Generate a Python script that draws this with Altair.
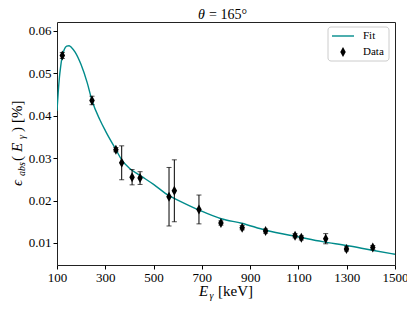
import altair as alt
import pandas as pd

# measured data points
energy = [122, 245, 344, 368, 411, 444, 564, 586, 688, 779, 867, 964, 1086, 1112, 1213, 1299, 1408]
efficiency = [0.0542, 0.0436, 0.0320, 0.0289, 0.0255, 0.0253, 0.0209, 0.0223, 0.0179, 0.0147,
              0.0136, 0.0128, 0.0117, 0.0112, 0.0110, 0.0086, 0.0089]
error = [0.0007, 0.0010, 0.0005, 0.0040, 0.0018, 0.0015, 0.0069, 0.0073, 0.0034, 0.0005,
         0.0005, 0.0005, 0.0005, 0.0005, 0.0012, 0.0005, 0.0005]

# fit curve
fit_energy = [100, 105, 110, 115, 120, 130, 140, 150, 160, 175, 200, 225, 245, 278, 300, 344,
              368, 400, 450, 500, 565, 600, 690, 780, 865, 964, 1107, 1200, 1300, 1400, 1500]
fit_eff = [0.0412, 0.0455, 0.0490, 0.0515, 0.0535, 0.0556, 0.0564, 0.0565, 0.0561, 0.0550,
           0.0520, 0.0478, 0.0436, 0.0390, 0.0365, 0.0320, 0.0296, 0.0276, 0.0257, 0.0238,
           0.0211, 0.0201, 0.0177, 0.0157, 0.01465, 0.0130, 0.01134, 0.0103, 0.0094, 0.00835, 0.00733]

x_ticks = [100, 300, 500, 700, 900, 1100, 1300, 1500]
y_ticks = [0.01, 0.02, 0.03, 0.04, 0.05, 0.06]

TEAL = "#008b8b"
FONT = "'Liberation Serif', 'DejaVu Serif', serif"
DIAMOND = "M0,-1L0.55,0L0,1L-0.55,0Z"
W, H = 338, 243

pts = pd.DataFrame({"E": energy, "eff": efficiency, "err": error})
pts["lo"] = pts["eff"] - pts["err"]
pts["hi"] = pts["eff"] + pts["err"]
fit = pd.DataFrame({"E": fit_energy, "eff": fit_eff})

xs = alt.Scale(domain=[100, 1500], nice=False, zero=False)
ys = alt.Scale(domain=[0.0048, 0.0621], nice=False, zero=False)

xaxis = alt.Axis(values=x_ticks, format="d", title=None, grid=False, domain=False, tickSize=4,
                 tickColor="black", labelFont=FONT, labelFontSize=13, labelColor="black",
                 labelPadding=2, labelFlush=False)
yaxis = alt.Axis(values=y_ticks, format=".2f", title=None, grid=False, domain=False, tickSize=4,
                 tickColor="black", labelFont=FONT, labelFontSize=13, labelColor="black",
                 labelPadding=2, labelFlush=False)

X = alt.X("E:Q", scale=xs, axis=xaxis)

line = alt.Chart(fit).mark_line(color=TEAL, strokeWidth=1.4, interpolate="monotone", clip=True).encode(
    x=X, y=alt.Y("eff:Q", scale=ys, axis=yaxis))

bars = alt.Chart(pts).mark_rule(color="black", strokeWidth=1).encode(
    x=X, y=alt.Y("lo:Q", scale=ys, axis=yaxis), y2="hi:Q")
cap_lo = alt.Chart(pts).mark_tick(color="black", orient="horizontal", size=5, thickness=1).encode(
    x=X, y=alt.Y("lo:Q", scale=ys, axis=yaxis))
cap_hi = alt.Chart(pts).mark_tick(color="black", orient="horizontal", size=5, thickness=1).encode(
    x=X, y=alt.Y("hi:Q", scale=ys, axis=yaxis))

points = alt.Chart(pts).mark_point(shape=DIAMOND, filled=True, size=100, color="black", opacity=1).encode(
    x=X, y=alt.Y("eff:Q", scale=ys, axis=yaxis))

one = pd.DataFrame({"k": [0]})

# legend
leg_box = alt.Chart(one).mark_rect(fill="white", stroke="#cccccc", strokeWidth=1, cornerRadius=3).encode(
    x=alt.value(271), x2=alt.value(332), y=alt.value(5), y2=alt.value(39))
leg_line = alt.Chart(one).mark_rule(color=TEAL, strokeWidth=1.4).encode(
    x=alt.value(275), x2=alt.value(297), y=alt.value(14))
leg_pt = alt.Chart(one).mark_point(shape=DIAMOND, filled=True, size=100, color="black", opacity=1).encode(
    x=alt.value(286), y=alt.value(30))
leg_fit = alt.Chart(one).mark_text(text="Fit", font=FONT, fontSize=11, align="left", baseline="middle").encode(
    x=alt.value(306), y=alt.value(14))
leg_data = alt.Chart(one).mark_text(text="Data", font=FONT, fontSize=11, align="left", baseline="middle").encode(
    x=alt.value(306), y=alt.value(30))


def txt(s, x, y, size, italic=False, angle=0):
    kw = dict(text=s, font=FONT, fontSize=size, align="left", baseline="alphabetic")
    if italic:
        kw["fontStyle"] = "italic"
    if angle:
        kw["angle"] = angle
    return alt.Chart(one).mark_text(**kw).encode(x=alt.value(x), y=alt.value(y))


# title  θ = 165°
tt = [
    txt("θ", 141, -3, 14, True),
    txt("= 165°", 152, -3, 14),
]
# x-axis title  E_γ [keV]
xt = [
    txt("E", 142, 274, 15, True),
    txt("γ", 152.5, 277, 10, True),
    txt("[keV]", 161, 274, 15),
]
# y-axis title  ϵ_abs(E_γ) [%]
yt = [
    txt("ϵ", -35.5, 164, 15, True, 270),
    txt("abs", -32.5, 154, 10, True, 270),
    txt("(", -35.5, 139, 15, False, 270),
    txt("E", -35.5, 130, 15, True, 270),
    txt("γ", -32.5, 117, 10, True, 270),
    txt(")", -35.5, 110, 15, False, 270),
    txt("[%]", -35.5, 101, 15, False, 270),
]

chart = alt.layer(line, bars, cap_lo, cap_hi, points, leg_box, leg_line, leg_pt, leg_fit, leg_data,
                  *tt, *xt, *yt).properties(
    width=W, height=H,
    background="white",
    autosize=alt.AutoSizeParams(type="none"),
    padding={"left": 49, "top": 14, "right": 12, "bottom": 38},
).configure_view(stroke="#222222", strokeWidth=1)

chart.save("out.html", embed_options={"renderer": "svg", "actions": False})
